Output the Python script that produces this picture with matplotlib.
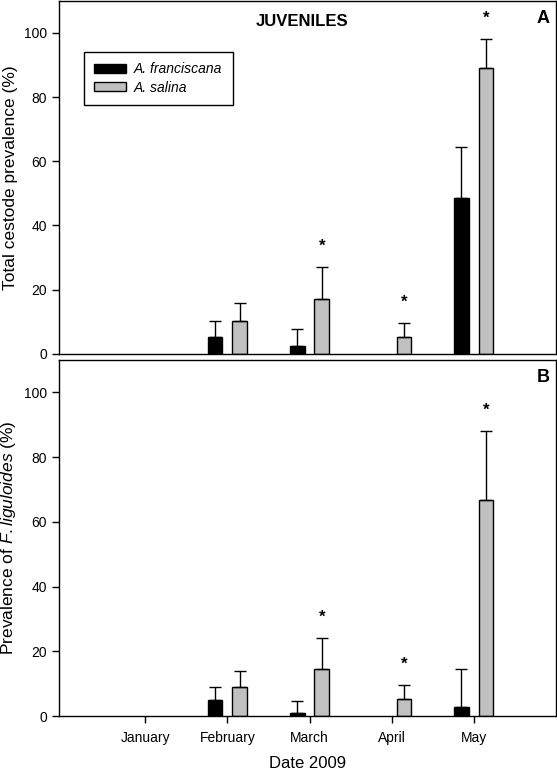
import numpy as np
from matplotlib import pyplot as plt
from matplotlib.patches import Patch

plt.rcParams['font.family'] = ['Liberation Sans', 'DejaVu Sans']
plt.rcParams['mathtext.fontset'] = 'custom'
plt.rcParams['mathtext.rm'] = 'Liberation Sans'
plt.rcParams['mathtext.it'] = 'Liberation Sans:italic'

months = ['January', 'February', 'March', 'April', 'May']

# Panel A - total cestode prevalence (%)
franc_total = [0, 5.4, 2.6, 0, 48.7]
franc_total_err = [0, 4.7, 5.0, 0, 15.9]
salina_total = [0, 10.3, 17.1, 5.3, 89.1]
salina_total_err = [0, 5.4, 10.0, 4.3, 9.0]
stars_total = [False, False, True, True, True]

# Panel B - prevalence of F. liguloides (%)
franc_flig = [0, 5.0, 0.8, 0, 2.8]
franc_flig_err = [0, 4.1, 3.9, 0, 11.6]
salina_flig = [0, 9.0, 14.4, 5.3, 66.7]
salina_flig_err = [0, 5.0, 9.7, 4.2, 21.4]
stars_flig = [False, False, True, True, True]

x = np.arange(len(months))
w = 0.18
off = 0.15

fig = plt.figure(figsize=(5.57, 7.71), dpi=100)
axA = fig.add_axes([0.106, 0.541, 0.892, 0.458])
axB = fig.add_axes([0.106, 0.0713, 0.892, 0.4617])


def panel(ax, f, fe, s, se, stars):
    # only draw bars with a value
    for xi, v, e in zip(x, f, fe):
        if v > 0:
            ax.bar(xi - off, v, w, color='black', edgecolor='black', linewidth=1)
            ax.errorbar(xi - off, v, yerr=[[0], [e]], fmt='none', ecolor='black',
                        elinewidth=1, capsize=4, capthick=1)
    for xi, v, e in zip(x, s, se):
        if v > 0:
            ax.bar(xi + off, v, w, color='#c0c0c0', edgecolor='black', linewidth=1)
            ax.errorbar(xi + off, v, yerr=[[0], [e]], fmt='none', ecolor='black',
                        elinewidth=1, capsize=4, capthick=1)
    for xi, v, e, st in zip(x, s, se, stars):
        if st:
            ax.text(xi + off, v + e + 6.5, '*', ha='center', va='center',
                    fontsize=12, fontweight='bold')
    ax.set_xlim(-1.05, 5.0)
    ax.set_ylim(0, 110)
    ax.set_yticks([0, 20, 40, 60, 80, 100])
    ax.tick_params(axis='y', direction='out', length=5, labelsize=10, width=1)
    for sp in ax.spines.values():
        sp.set_linewidth(1)


panel(axA, franc_total, franc_total_err, salina_total, salina_total_err, stars_total)
panel(axB, franc_flig, franc_flig_err, salina_flig, salina_flig_err, stars_flig)

axA.set_xticks([])
axB.set_xticks(x)
axB.set_xticklabels(months)
axB.tick_params(axis='x', direction='out', length=5, labelsize=10, width=1, pad=6)

axA.set_ylabel('Total cestode prevalence (%)', fontsize=12.5)
axB.set_ylabel('Prevalence of $\\mathit{F.liguloides}$ (%)', fontsize=12.5)
axB.set_xlabel('Date 2009', fontsize=12, labelpad=8)
axA.yaxis.set_label_coords(-0.083, 0.5)
axB.yaxis.set_label_coords(-0.083, 0.5)

axA.text(0.49, 0.94, 'JUVENILES', transform=axA.transAxes, ha='center', va='center',
         fontsize=12, fontweight='bold')
axA.text(0.975, 0.95, 'A', transform=axA.transAxes, ha='center', va='center',
         fontsize=13, fontweight='bold')
axB.text(0.975, 0.95, 'B', transform=axB.transAxes, ha='center', va='center',
         fontsize=13, fontweight='bold')

handles = [Patch(facecolor='black', edgecolor='black'),
           Patch(facecolor='#c0c0c0', edgecolor='black')]
leg = axA.legend(handles, ['A. franciscana', 'A. salina'], loc='upper left',
                 bbox_to_anchor=(0.05, 0.855), fancybox=False, edgecolor='black',
                 framealpha=1, prop={'style': 'italic', 'size': 10},
                 handlelength=2.3, handleheight=0.6, borderpad=0.75,
                 labelspacing=0.3, handletextpad=0.55, borderaxespad=0)
leg.get_frame().set_linewidth(1)

plt.savefig('out.png', dpi=100)
